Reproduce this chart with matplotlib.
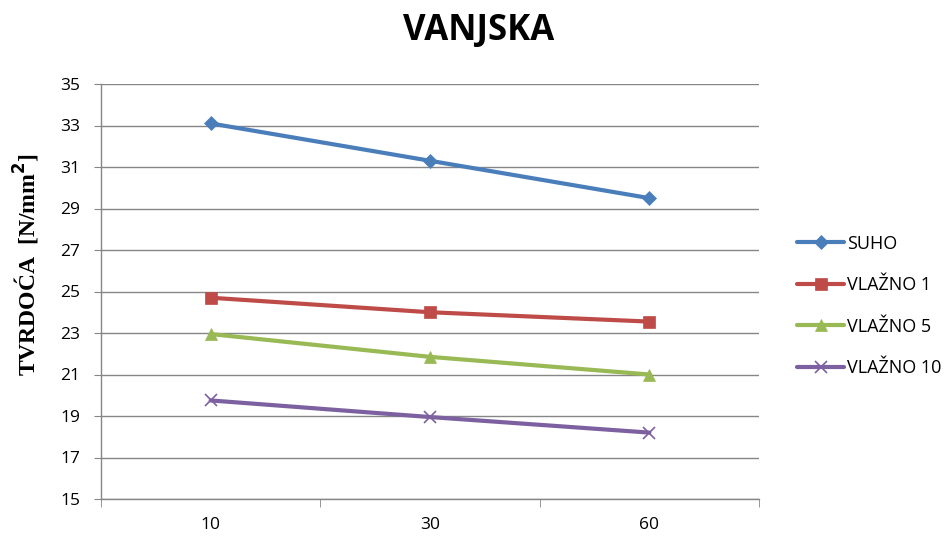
import matplotlib
matplotlib.use("Agg")
import matplotlib.pyplot as plt
from matplotlib.ticker import FixedLocator

categories = ["10", "30", "60"]
suho = [33.1, 31.3, 29.5]
vlazno1 = [24.7, 24.0, 23.55]
vlazno5 = [22.95, 21.85, 21.0]
vlazno10 = [19.75, 18.95, 18.2]
yticks = [15, 17, 19, 21, 23, 25, 27, 29, 31, 33, 35]

series = [
    ("SUHO", suho, "#4A7EBB", "D", 7),
    ("VLAŽNO 1", vlazno1, "#BE4B48", "s", 8),
    ("VLAŽNO 5", vlazno5, "#98B954", "^", 8),
    ("VLAŽNO 10", vlazno10, "#7D60A0", "x", 9),
]

fig = plt.figure(figsize=(9.44, 5.38), dpi=100)
ax = fig.add_axes([101/944, 1-499/538, (759-101)/944, (499-84)/538])

x = list(range(len(categories)))
for name, vals, col, mk, ms in series:
    ax.plot(x, vals, color=col, lw=3, marker=mk, markersize=ms,
            markeredgewidth=1.2 if mk == "x" else 0.5, markeredgecolor=col,
            markerfacecolor=col, label=name, solid_capstyle="round")

ax.set_xlim(-0.5, 2.5)
ax.set_ylim(15, 35)
ax.yaxis.set_major_locator(FixedLocator(yticks))
ax.grid(axis="y", color="#868686", lw=1)
ax.set_axisbelow(True)
for s in ["top", "right"]:
    ax.spines[s].set_visible(False)
for s in ["left", "bottom"]:
    ax.spines[s].set_color("#868686")
    ax.spines[s].set_linewidth(1)

ax.set_xticks(x)
ax.set_xticklabels(categories)
ax.xaxis.set_minor_locator(FixedLocator([-0.5, 0.5, 1.5, 2.5]))
ax.tick_params(axis="x", which="major", length=0, pad=13, labelsize=12.5)
ax.tick_params(axis="x", which="minor", length=6, color="#868686", direction="out")
ax.tick_params(axis="y", length=5, color="#868686", labelsize=12.5, pad=10)
for lab in ax.get_xticklabels() + ax.get_yticklabels():
    lab.set_fontfamily("Open Sans")

fig.text(479/944, 1-31/538, "VANJSKA", ha="center", va="center",
         fontsize=25, fontweight="bold", family="Open Sans")
fig.text(27/944, 1-265/538, "TVRDOĆA  [N/mm$^\\mathbf{2}$]", rotation=90, ha="center", va="center",
         fontsize=17, fontweight="bold", family="Liberation Serif")

leg = fig.legend(loc="center left", bbox_to_anchor=(781/944, 1-306/538), frameon=False,
                 prop={"family": "Open Sans", "size": 13}, handlelength=2.6,
                 handletextpad=0.15, labelspacing=1.3)

fig.savefig("out.png", dpi=100)
